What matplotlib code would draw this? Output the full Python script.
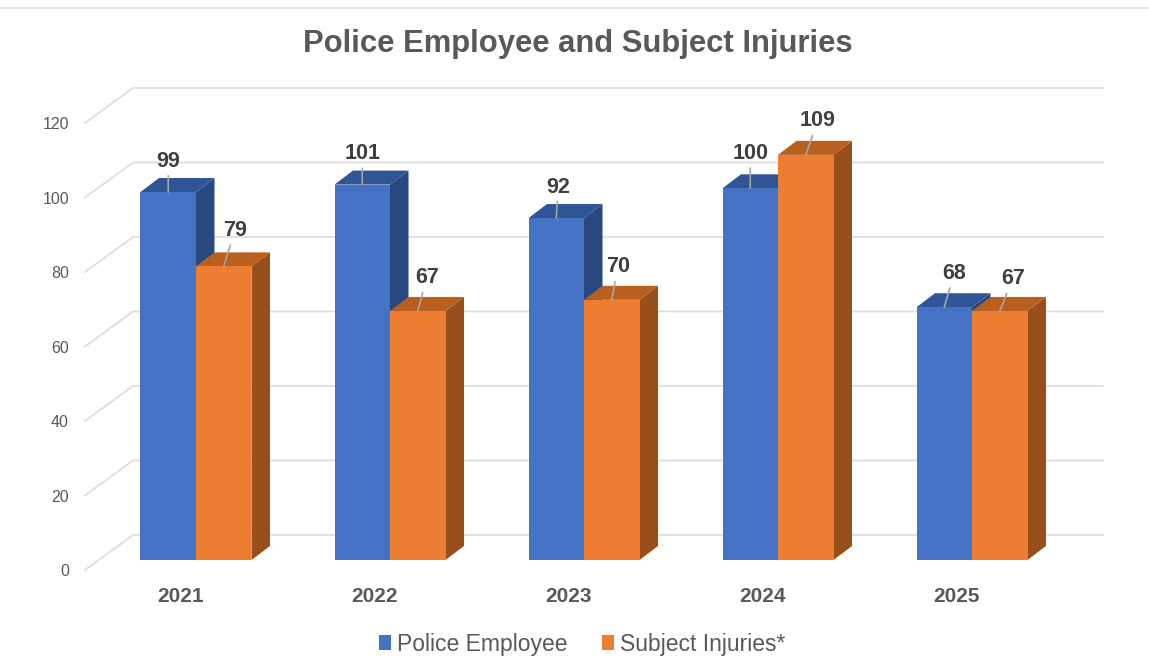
import matplotlib
matplotlib.use('Agg')
from matplotlib import pyplot as plt
from matplotlib.patches import Polygon, Patch, Rectangle

years = ['2021', '2022', '2023', '2024', '2025']
police = [99, 101, 92, 100, 68]
subject = [79, 67, 70, 109, 67]
y_ticks = [0, 20, 40, 60, 80, 100, 120]

# label offsets from the top of the bar, in pixels
police_off = [(0, 31), (0, 31), (2, 31), (0, 35), (10, 34)]
subject_off = [(11, 36), (9, 33), (6, 33), (12, 34), (13, 32)]

PX_X = 194.0    # pixels per category
PX_Y = 3.717    # pixels per unit
X0 = 196.0      # pixel of first category
Y0 = 560.0      # pixel of value 0

BAR_W = 55.5 / PX_X
DX = 18.5 / PX_X
DY = 14.0 / PX_Y

GRAY = '#595959'
plt.rcParams['font.family'] = ['Liberation Sans', 'DejaVu Sans']


def draw_bar(ax, x0, val, front, top, side):
    x1 = x0 + BAR_W
    ax.add_patch(Polygon([(x1, 0), (x1 + DX, DY), (x1 + DX, val + DY), (x1, val)],
                         fc=side, ec='none', zorder=3))
    ax.add_patch(Polygon([(x0, val), (x0 + DX, val + DY), (x1 + DX, val + DY), (x1, val)],
                         fc=top, ec='none', zorder=3))
    ax.add_patch(Rectangle((x0, 0), BAR_W, val, fc=front, ec='none', zorder=3))


def add_label(ax, x, val, off):
    ax.annotate(str(val), xy=(x, val), xytext=off, textcoords='offset pixels',
                ha='center', va='center', fontsize=15.5, fontweight='bold',
                color='#404040', zorder=6,
                arrowprops=dict(arrowstyle='-', color='#a6a6a6', lw=1.2,
                                shrinkA=1, shrinkB=0))


def main():
    fig = plt.figure(figsize=(11.49, 6.70), dpi=100)
    ax = fig.add_axes([0, 0, 1, 1])
    ax.set_xlim(-X0 / PX_X, (1149 - X0) / PX_X)
    ax.set_ylim(-(670 - Y0) / PX_Y, Y0 / PX_Y)
    ax.axis('off')

    # outer frame
    ax.plot([ax.get_xlim()[0], ax.get_xlim()[1]], [(Y0 - 8) / PX_Y] * 2,
            color='#e8e8e8', lw=1.5, zorder=1)

    # walls of the 3d chart
    left = (85 - X0) / PX_X
    back = (133 - X0) / PX_X
    right = (1103 - X0) / PX_X
    for t in y_ticks:
        front_y = t * 3.725 / PX_Y - 10 / PX_Y
        back_y = t * 3.725 / PX_Y + 25 / PX_Y
        ax.plot([left, back, right], [front_y, back_y, back_y],
                color='#dedede', lw=1.3, zorder=1)
        ax.text((69 - X0) / PX_X, front_y - 1.5 / PX_Y, str(t), ha='right', va='center',
                fontsize=11.5, color=GRAY)

    for i in range(len(years)):
        draw_bar(ax, i - BAR_W, police[i], '#4472C4', '#2F5597', '#28487F')
        draw_bar(ax, i, subject[i], '#ED7D31', '#B9601F', '#97501B')
        add_label(ax, i - BAR_W / 2, police[i], police_off[i])
        add_label(ax, i + BAR_W / 2, subject[i], subject_off[i])
        ax.text(i - 15 / PX_X, -37 / PX_Y, years[i], ha='center', va='center',
                fontsize=15, fontweight='bold', color=GRAY)

    ax.text((578 - X0) / PX_X, (Y0 - 44) / PX_Y, 'Police Employee and Subject Injuries',
            ha='center', va='center', fontsize=22.3, fontweight='bold', color=GRAY)

    handles = [Patch(fc='#4472C4', label='Police Employee'),
               Patch(fc='#ED7D31', label='Subject Injuries*')]
    ax.legend(handles=handles, ncol=2, frameon=False, loc='center',
              bbox_to_anchor=(582 / 1149, 1 - 644 / 670), fontsize=16.5,
              labelcolor=GRAY, handlelength=0.55, handleheight=0.6,
              handletextpad=0.25, columnspacing=1.5)

    fig.savefig('out.png', dpi=100)


if __name__ == '__main__':
    main()
